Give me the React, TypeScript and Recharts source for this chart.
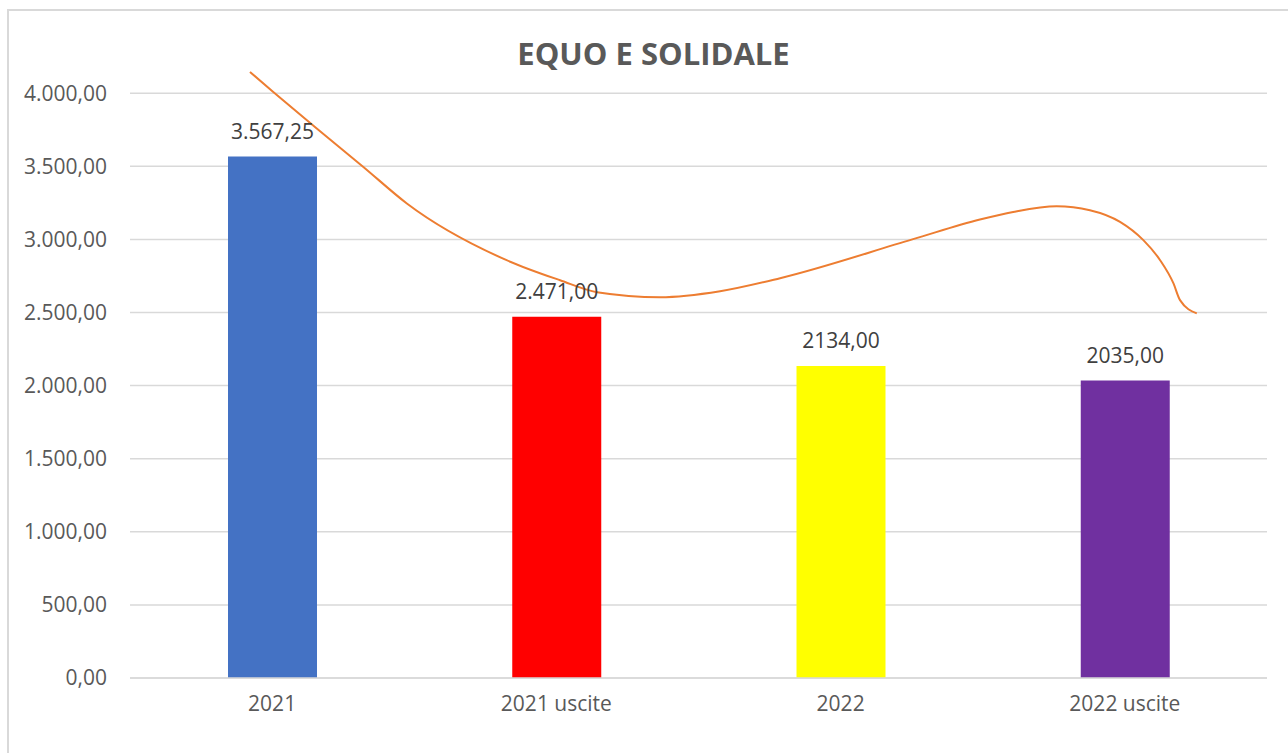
import React from 'react';
import {
  ComposedChart,
  Bar,
  Line,
  XAxis,
  YAxis,
  CartesianGrid,
  Cell,
  LabelList,
} from 'recharts';

const categories = ['2021', '2021 uscite', '2022', '2022 uscite'];
const values = [3567.25, 2471, 2134, 2035];
const valueLabels = ['3.567,25', '2.471,00', '2134,00', '2035,00'];
const barColors = ['#4472C4', '#FF0000', '#FFFF00', '#7030A0'];

const yTicks = [0, 500, 1000, 1500, 2000, 2500, 3000, 3500, 4000];
const yTickLabels = ['0,00', '500,00', '1.000,00', '1.500,00', '2.000,00', '2.500,00', '3.000,00', '3.500,00', '4.000,00'];

// trend line (position in category units, value)
const trendX = [-0.078, 0.004, 0.157, 0.321, 0.474, 0.825, 1.013, 1.143, 1.365, 1.576, 1.787, 2.255, 2.49, 2.607, 2.76, 2.877, 2.983, 3.065, 3.124, 3.171, 3.194, 3.253];
const trendY = [4146, 4009, 3759, 3496, 3246, 2858, 2721, 2639, 2605, 2646, 2735, 3002, 3136, 3188, 3227, 3200, 3120, 2995, 2858, 2699, 2585, 2494];

const data = categories.map((name, i) => ({ name, value: values[i], label: valueLabels[i] }));
const trendData = trendX.map((x, i) => ({ x, y: trendY[i] }));

const FONT = '"Open Sans", "Noto Sans", sans-serif';

export default function App() {
  return (
    <div
      style={{
        position: 'absolute',
        left: 0,
        top: 0,
        width: 1288,
        height: 753,
        overflow: 'hidden',
        background: '#ffffff',
        fontFamily: FONT,
      }}
    >
      <div
        style={{
          position: 'absolute',
          left: 7,
          top: 9,
          width: 1300,
          height: 800,
          border: '2px solid #d9d9d9',
          boxSizing: 'border-box',
        }}
      />
      <div
        style={{
          position: 'absolute',
          left: 0,
          top: 32,
          width: 1307,
          textAlign: 'center',
          fontSize: 31,
          fontWeight: 700,
          color: '#595959',
          lineHeight: '42px',
        }}
      >
        EQUO E SOLIDALE
      </div>
      <div style={{ position: 'absolute', left: 0, top: 0 }}>
        <ComposedChart
          width={1288}
          height={753}
          data={data}
          margin={{ top: 64, right: 21, bottom: 45, left: 8 }}
        >
          <CartesianGrid
            vertical={false}
            stroke="#d9d9d9"
            strokeWidth={1.5}
            yAxisId="v"
            xAxisId="cat"
            horizontalValues={yTicks}
          />
          <XAxis
            xAxisId="cat"
            dataKey="name"
            type="category"
            height={30}
            tickLine={false}
            tickSize={0}
            tickMargin={18}
            axisLine={{ stroke: '#d9d9d9', strokeWidth: 1.5 }}
            tick={{ fill: '#595959', fontSize: 21, fontFamily: FONT }}
          />
          <XAxis xAxisId="t" type="number" dataKey="x" domain={[-0.5, 3.5]} hide allowDataOverflow />
          <YAxis
            yAxisId="v"
            type="number"
            domain={[0, 4200]}
            ticks={yTicks}
            interval={0}
            width={122}
            axisLine={false}
            tickLine={false}
            tickSize={0}
            tickMargin={23}
            tickFormatter={(v: number) => yTickLabels[yTicks.indexOf(v)] ?? String(v)}
            tick={{ fill: '#595959', fontSize: 21, fontFamily: FONT }}
          />
          <Bar xAxisId="cat" yAxisId="v" dataKey="value" barSize={89} isAnimationActive={false}>
            {data.map((d, i) => (
              <Cell key={d.name} fill={barColors[i]} />
            ))}
            <LabelList
              dataKey="label"
              position="top"
              offset={18}
              style={{ fill: '#404040', fontSize: 21, fontFamily: FONT }}
            />
          </Bar>
          <Line
            xAxisId="t"
            yAxisId="v"
            data={trendData}
            dataKey="y"
            type="monotone"
            stroke="#ED7D31"
            strokeWidth={2}
            dot={false}
            activeDot={false}
            isAnimationActive={false}
          />
        </ComposedChart>
      </div>
    </div>
  );
}
